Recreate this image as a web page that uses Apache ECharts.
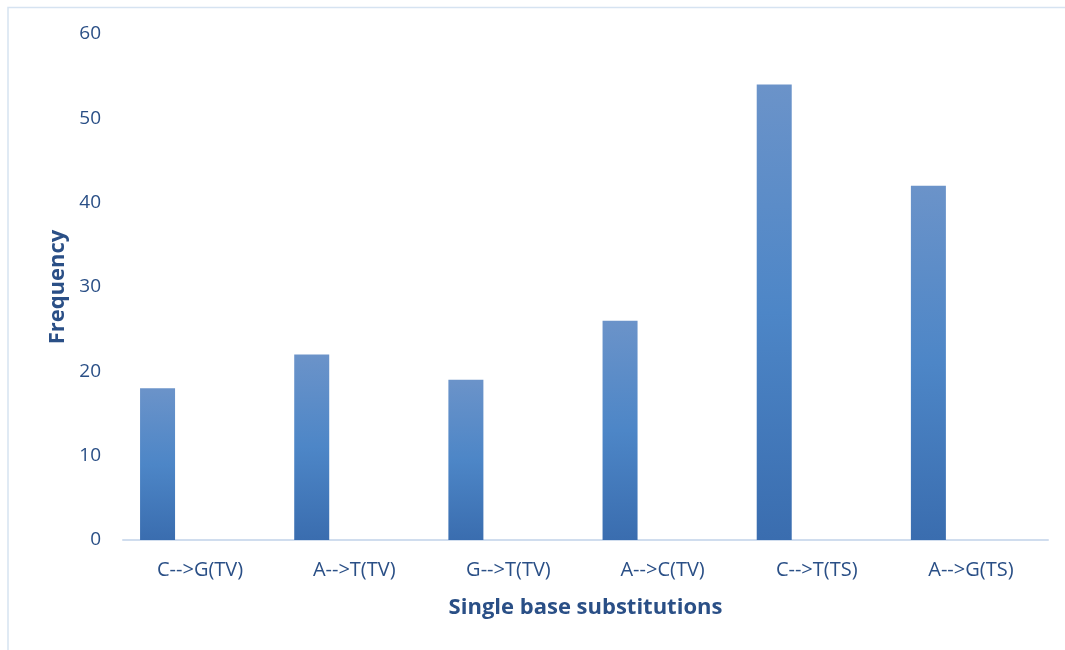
<!DOCTYPE html>
<html><head><meta charset="utf-8">
<script src="https://cdn.jsdelivr.net/npm/echarts@6/dist/echarts.min.js"></script>
<style>html,body{margin:0;padding:0;background:#fff}#c{width:1065px;height:650px}</style>
</head><body><div id="c"></div>
<script>
var categories = ["C-->G(TV)", "A-->T(TV)", "G-->T(TV)", "A-->C(TV)", "C-->T(TS)", "A-->G(TS)"];
var frequency = [18, 22, 19, 26, 54, 42];
var emptySeries = [null, null, null, null, null, null];
var yTicks = [0, 10, 20, 30, 40, 50, 60];

var textColor = '#2a4f86';
var font = '"Open Sans", "Noto Sans", sans-serif';
var chart = echarts.init(document.getElementById('c'));
chart.setOption({
  animation: false,
  backgroundColor: '#fff',
  graphic: [
    {type: 'polyline', shape: {points: [[8, 650], [8, 7.5], [1065, 7.5]]}, style: {stroke: '#d6e3f1', lineWidth: 1.5, fill: null}}
  ],
  grid: {left: 123, right: 17, top: 34, bottom: 110, containLabel: false},
  xAxis: {
    type: 'category', data: categories,
    axisLine: {show: true, lineStyle: {color: '#d0ddee', width: 2}},
    axisTick: {show: false},
    axisLabel: {color: textColor, fontSize: 20, fontFamily: font, margin: 20},
    name: 'Single base substitutions', nameLocation: 'middle', nameGap: 57,
    nameTextStyle: {color: textColor, fontSize: 22, fontWeight: 'bold', fontFamily: font}
  },
  yAxis: {
    type: 'value', min: yTicks[0], max: yTicks[yTicks.length - 1], interval: 10,
    axisLine: {show: false}, axisTick: {show: false}, splitLine: {show: false},
    axisLabel: {color: textColor, fontSize: 19, fontFamily: font, margin: 22},
    name: 'Frequency', nameLocation: 'middle', nameGap: 52, nameRotate: 90,
    nameTextStyle: {color: textColor, fontSize: 22, fontWeight: 'bold', fontFamily: font}
  },
  series: [
    {
      type: 'bar', data: frequency, barWidth: 35, barGap: '143%',
      itemStyle: {color: new echarts.graphic.LinearGradient(0, 0, 0, 1, [
        {offset: 0, color: '#6b93c9'},
        {offset: 0.5, color: '#4d86c7'},
        {offset: 1, color: '#3a6daf'}
      ])}
    },
    {type: 'bar', data: emptySeries, barWidth: 35}
  ]
});
</script>
</body></html>
